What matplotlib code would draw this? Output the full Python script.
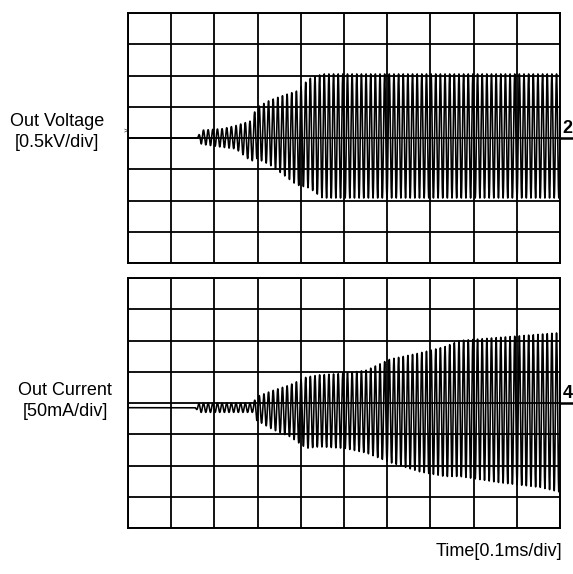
import numpy as np
import matplotlib
matplotlib.use('Agg')
import matplotlib.pyplot as plt

plt.rcParams['font.family'] = ['Liberation Sans', 'DejaVu Sans']

# envelopes, time in divisions, level in divisions
volt_t = [0, 1.6, 1.7, 2.2, 2.5, 2.85, 2.97, 3.27, 3.57, 3.9, 4.2, 4.5, 10]
volt_up = [0, 0, 0.25, 0.3, 0.4, 0.55, 0.97, 1.2, 1.35, 1.5, 1.9, 2.05, 2.05]
volt_lo = [0, 0, -0.2, -0.3, -0.35, -0.75, -0.65, -0.85, -1.15, -1.5, -1.6, -1.92, -1.92]

curr_t = [0, 1.55, 1.65, 2.9, 2.97, 3.35, 3.75, 4.13, 4.43, 5.01, 5.52, 6.06, 6.75, 7.33, 7.68, 8.61, 9.54, 10]
curr_up = [-0.15, -0.15, 0.0, 0.0, 0.2, 0.4, 0.58, 0.83, 0.9, 0.95, 1.05, 1.4, 1.6, 1.8, 2.0, 2.1, 2.2, 2.25]
curr_lo = [-0.15, -0.15, -0.3, -0.3, -0.55, -0.85, -1.08, -1.45, -1.4, -1.45, -1.6, -1.9, -2.2, -2.35, -2.35, -2.55, -2.7, -2.85]

cycles_per_div = 9.3
panels = [
    ('2', volt_t, volt_up, volt_lo),
    ('4', curr_t, curr_up, curr_lo),
]

fig = plt.figure(figsize=(5.73, 5.74), dpi=100)
rects = [[128/573, 1 - 263/574, 432/573, 250/574],
         [128/573, 1 - 528/574, 432/573, 250/574]]

t = np.linspace(0, 10, 60000)
carrier = np.sin(2 * np.pi * cycles_per_div * t)

for rect, (tag, et, eu, el) in zip(rects, panels):
    ax = fig.add_axes(rect)
    up = np.interp(t, et, eu)
    lo = np.interp(t, et, el)
    mid = (up + lo) / 2
    half = (up - lo) / 2
    ax.plot(t, mid + half * carrier, color='black', lw=1.15)

    ax.set_xlim(0, 10)
    ax.set_ylim(-4, 4)
    ax.set_xticks(range(11))
    ax.set_yticks(range(-4, 5))
    ax.grid(True, color='black', lw=1.3)
    ax.tick_params(length=0, labelbottom=False, labelleft=False)
    for s in ax.spines.values():
        s.set_linewidth(1.4)

    # channel marker on the right
    ax.plot([10, 10.32], [0, 0], color='black', lw=1.8, clip_on=False)
    ax.text(10.17, 0.03, tag, fontsize=13, fontweight='bold', ha='center', va='bottom')

fig.text(57/573, 1 - 132/574, 'Out Voltage\n[0.5kV/div]', fontsize=13, ha='center', va='center',
         linespacing=1.25)
fig.text(65/573, 1 - 401/574, 'Out Current\n[50mA/div]', fontsize=13, ha='center', va='center',
         linespacing=1.25)
fig.text(126/573, 1 - 131/574, '>', fontsize=5, ha='center', va='center')
fig.text(562/573, 1 - 551/574, 'Time[0.1ms/div]', fontsize=13, ha='right', va='center')

fig.savefig('out.png', dpi=100)
